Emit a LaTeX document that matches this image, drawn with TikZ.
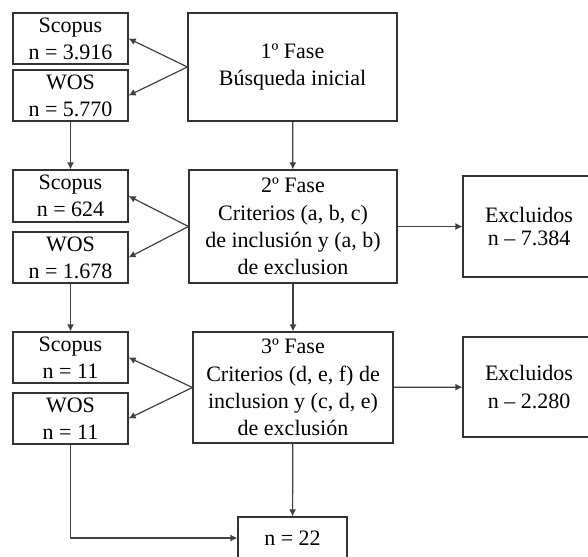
\documentclass[tikz,border=0pt]{standalone}
\usepackage{fontspec}
\setmainfont{Liberation Serif}
\usetikzlibrary{arrows.meta}

\tikzset{
  box/.style={draw=black!80, line width=0.6pt, inner sep=0pt, align=center,
    font=\fontsize{11}{13.6}\selectfont},
  dbbox/.style={box, minimum width=57.5pt, minimum height=25.5pt},
  link/.style={draw=black!75, line width=0.6pt, -{Latex[length=3.5pt,width=3.5pt]}}
}

\begin{document}
\begin{tikzpicture}[x=0.5pt, y=-0.5pt]
  \useasboundingbox (0,0) rectangle (588,556);
  \clip (0,0) rectangle (588,556);

  % fase 1
  \node[dbbox] (scopusA) at (70.5, 38.5) {Scopus\\n = 3.916};
  \node[dbbox] (wosA) at (70.5, 95.5) {WOS\\n = 5.770};
  \node[box, minimum width=104.5pt, minimum height=54pt] (faseA) at (292.5, 67)
    {1º Fase\\Búsqueda inicial};

  % fase 2
  \node[dbbox, minimum height=26pt] (scopusB) at (70.5, 196) {Scopus\\n = 624};
  \node[dbbox] (wosB) at (70.5, 257.5) {WOS\\n = 1.678};
  \node[box, minimum width=104pt, minimum height=56.5pt] (faseB) at (293, 226.5)
    {2º Fase\\Criterios (a, b, c)\\de inclusión y (a, b)\\de exclusion};
  \node[box, minimum width=66pt, minimum height=50.5pt,
    font=\fontsize{11}{11.5}\selectfont] (exclA) at (529, 226.5)
    {Excluidos\\n – 7.384};

  % fase 3
  \node[dbbox] (scopusC) at (70.5, 357.5) {Scopus\\n = 11};
  \node[dbbox] (wosC) at (70.5, 418.5) {WOS\\n = 11};
  \node[box, minimum width=100pt, minimum height=55.5pt] (faseC) at (293, 387.5)
    {3º Fase\\Criterios (d, e, f) de\\inclusion y (c, d, e)\\de exclusión};
  \node[box, minimum width=66pt, minimum height=50pt] (exclB) at (529, 387)
    {Excluidos\\n – 2.280};

  % total
  \node[box, minimum width=54.5pt, minimum height=21pt] (total) at (292.5, 538)
    {n = 22};

  \draw[link] (faseA.west) -- (scopusA.east);
  \draw[link] (faseA.west) -- (wosA.east);
  \draw[link] (wosA) -- (scopusB);
  \draw[link] (faseA) -- (faseB);

  \draw[link] (faseB.west) -- (scopusB.east);
  \draw[link] (faseB.west) -- (wosB.east);
  \draw[link] (faseB) -- (exclA);
  \draw[link] (wosB) -- (scopusC);
  \draw[link] (faseB) -- (faseC);

  \draw[link] (faseC.west) -- (scopusC.east);
  \draw[link] (faseC.west) -- (wosC.east);
  \draw[link] (faseC) -- (exclB);
  \draw[link] (faseC) -- (total);
  \draw[link] (wosC.south) |- (total.west);
\end{tikzpicture}
\end{document}
